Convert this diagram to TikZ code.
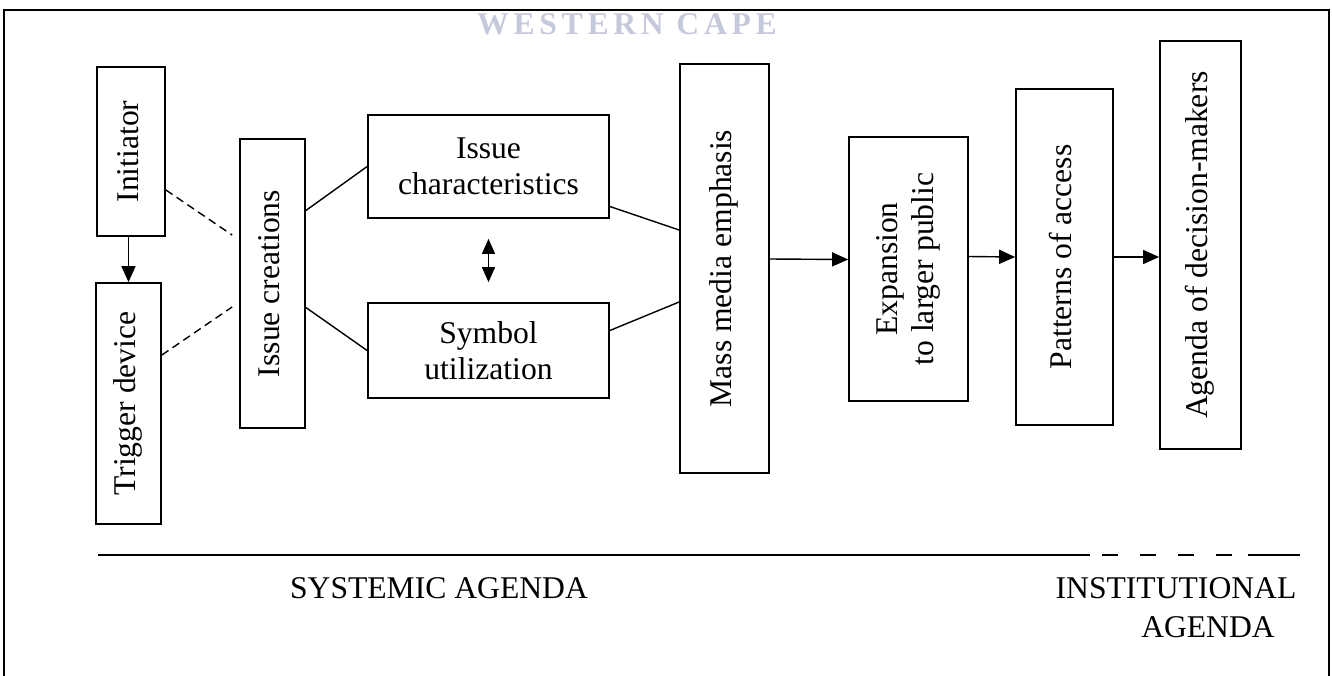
\documentclass[tikz,border=0pt]{standalone}
\usepackage{fontspec}
\setmainfont{Liberation Serif}
\newfontfamily\wmfont[LetterSpace=15]{Liberation Serif}
\usepackage{graphicx}
\usetikzlibrary{arrows.meta,positioning}

\definecolor{wmgrey}{RGB}{198,200,220}

\newcommand{\vtxt}[1]{\rotatebox{90}{\begin{tabular}{@{}c@{}}#1\end{tabular}}}

\tikzset{
  box/.style={draw, line width=1pt, inner sep=0pt, align=center,
    font=\fontsize{18}{20.5}\selectfont},
  link/.style={line width=0.8pt},
  flow/.style={line width=0.8pt, -{Triangle[length=0.32cm,width=0.28cm]}},
  label/.style={font=\fontsize{18}{20.5}\selectfont, inner sep=0pt}
}

\begin{document}
\begin{tikzpicture}[x=0.02cm,y=-0.02cm]
    \useasboundingbox (0,0) rectangle (1332,676);

    % frame and watermark
    \draw[line width=1.1pt] (4,676) -- (4,10) -- (1329,10) -- (1329,676);
    \node[text=wmgrey, font=\wmfont\bfseries\fontsize{18}{19}\selectfont] (wm) at (627,24) {WESTERN CAPE};

    % boxes
    \node[box, minimum width=1.36cm, minimum height=3.38cm] (init)   at (131,151.5)  {\vtxt{Initiator}};
    \node[box, minimum width=1.3cm,  minimum height=4.82cm] (trig)   at (128.5,403.5) {\vtxt{Trigger device}};
    \node[box, minimum width=1.3cm,  minimum height=5.78cm] (creat)  at (272.5,283.5) {\vtxt{Issue creations}};
    \node[box, minimum width=4.82cm, minimum height=2.06cm] (chars)  at (488.5,166.5) {Issue\\characteristics};
    \node[box, minimum width=4.82cm, minimum height=1.9cm]  (symb)   at (488.5,350.5) {Symbol\\utilization};
    \node[box, minimum width=1.78cm, minimum height=8.18cm] (media)  at (724.5,268.5) {\vtxt{Mass media emphasis}};
    \node[box, minimum width=2.38cm, minimum height=5.28cm] (expan)  at (908.5,269)   {\vtxt{Expansion\\to larger public}};
    \node[box, minimum width=1.94cm, minimum height=6.72cm] (access) at (1064.5,257)  {\vtxt{Patterns of access}};
    \node[box, minimum width=1.62cm, minimum height=8.16cm] (agenda) at (1200.5,245)  {\vtxt{Agenda of decision-makers}};

    % connectors
    \draw[flow] (init.south -| trig) -- (trig.north);
    \draw[link, dash pattern=on 0.16cm off 0.1cm]
      ([yshift=-0.77cm]init.east) -- ([xshift=-0.14cm,yshift=0.97cm]creat.west)
      ([yshift=0.97cm]trig.east) -- ([xshift=-0.14cm,yshift=-0.47cm]creat.west);
    \draw[link]
      ([yshift=1.46cm]creat.east) -- (chars.west)
      ([yshift=-0.48cm]creat.east) -- (symb.west)
      ([yshift=-0.8cm]chars.east) -- ([yshift=0.77cm]media.west)
      ([yshift=0.4cm]symb.east) -- ([yshift=-0.67cm]media.west);
    \draw[line width=0.8pt, {Triangle[length=0.3cm,width=0.26cm]}-{Triangle[length=0.3cm,width=0.26cm]},
      shorten <=0.4cm, shorten >=0.4cm] (chars) -- (symb);
    \draw[flow] ([yshift=0.19cm]media.east) -- ([yshift=0.19cm]expan.west);
    \draw[flow] ([yshift=0.25cm]expan.east) -- (access.west);
    \draw[flow] (access.east) -- (access.east -| agenda.west);

    % agenda divider
    \draw[line width=0.8pt] (98,555) -- (1090,555);
    \draw[line width=0.8pt, dash pattern=on 0.32cm off 0.44cm] (1102,555) -- (1234,555);
    \draw[line width=0.8pt] (1248,555) -- (1300,555);

    \node[label] (sys)   at (439,588)  {SYSTEMIC AGENDA};
    \node[label] (inst)  at (1176,588) {INSTITUTIONAL};
    \node[label] (instb) at (1208,627) {AGENDA};
\end{tikzpicture}
\end{document}
